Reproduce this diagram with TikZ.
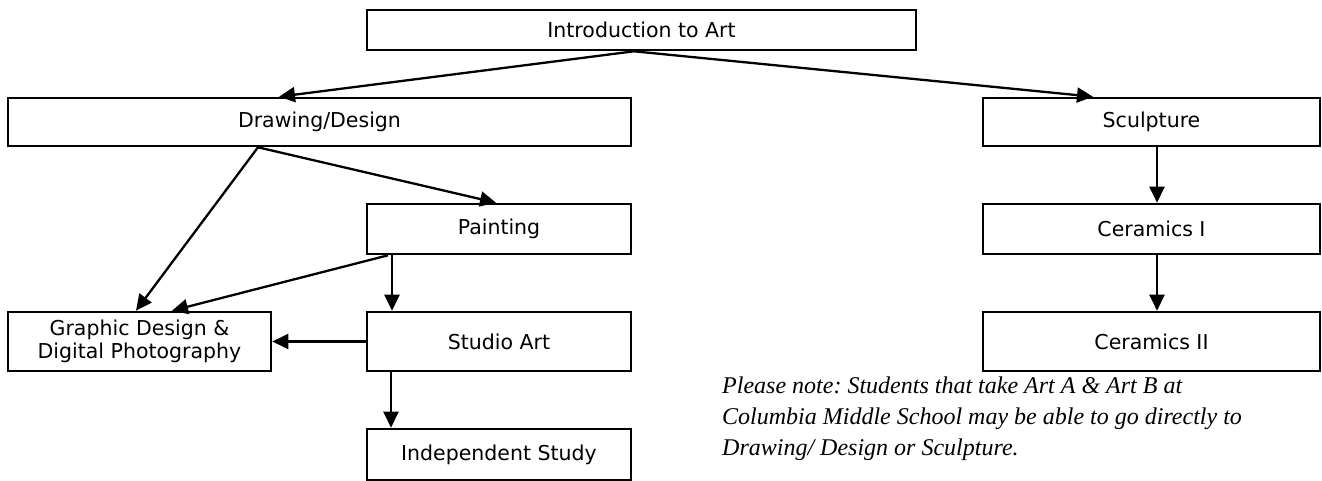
\documentclass[tikz,border=0pt]{standalone}
\usepackage{fontspec}
\setmainfont{DejaVu Sans}
\newfontfamily\notefont{Liberation Serif}
\usetikzlibrary{arrows.meta}
\frenchspacing
\tikzset{
    box/.style={draw, line width=2.6pt, inner sep=0pt, font=\fontsize{20.5}{23.5}\selectfont},
    arr/.style={line width=2.3pt, -{Triangle[length=16pt,width=15pt]}}
}
\begin{document}
\begin{tikzpicture}[x=1pt,y=-1pt]
    \useasboundingbox (0,0) rectangle (1322,481);

    \node[box, minimum width=549pt, minimum height=40pt] (intro) at (641.5,30) {Introduction to Art};
    \node[box, minimum width=623pt, minimum height=48pt] (drawing) at (319.5,122) {Drawing/Design};
    \node[box, minimum width=337pt, minimum height=48pt] (sculpt) at (1151.5,122) {Sculpture};
    \node[box, minimum width=264pt, minimum height=50pt] (paint) at (499,229) {Painting};
    \node[box, minimum width=337pt, minimum height=50pt] (cerI) at (1151.5,229) {Ceramics I};
    \node[box, minimum width=263pt, minimum height=59pt, align=center] (graphic) at (139.5,341.5) {Graphic Design \&\\Digital Photography};
    \node[box, minimum width=264pt, minimum height=59pt] (studio) at (499,341.5) {Studio Art};
    \node[box, minimum width=337pt, minimum height=59pt] (cerII) at (1151.5,341.5) {Ceramics II};
    \node[box, minimum width=264pt, minimum height=51pt] (indep) at (499,454.5) {Independent Study};

    \node[anchor=north west, inner sep=0pt, align=left, font=\notefont\itshape\fontsize{24}{31}\selectfont] (note) at (722,377)
        {Please note: Students that take Art A \& Art B at\\Columbia Middle School may be able to go directly to\\Drawing/ Design or Sculpture.};

    \draw [arr] ([xshift=-7.5]intro.south) -- ([xshift=-40.5]drawing.north);
    \draw [arr] ([xshift=-7.5]intro.south) -- ([xshift=-58.5]sculpt.north);
    \draw [arr] ([xshift=-61.5]drawing.south) -- ([xshift=-3]paint.north);
    \draw [arr] ([xshift=-61.5]drawing.south) -- ([xshift=-3.5]graphic.north);
    \draw [arr] ([xshift=-111]paint.south) -- ([xshift=32.5]graphic.north);
    \draw [arr] ([xshift=-107]paint.south) -- ([xshift=-107]studio.north);
    \draw [arr] (studio.west) -- (graphic.east);
    \draw [arr] ([xshift=-108]studio.south) -- ([xshift=-108]indep.north);
    \draw [arr] ([xshift=5.5]sculpt.south) -- ([xshift=5.5]cerI.north);
    \draw [arr] ([xshift=5.5]cerI.south) -- ([xshift=5.5]cerII.north);
\end{tikzpicture}
\end{document}
